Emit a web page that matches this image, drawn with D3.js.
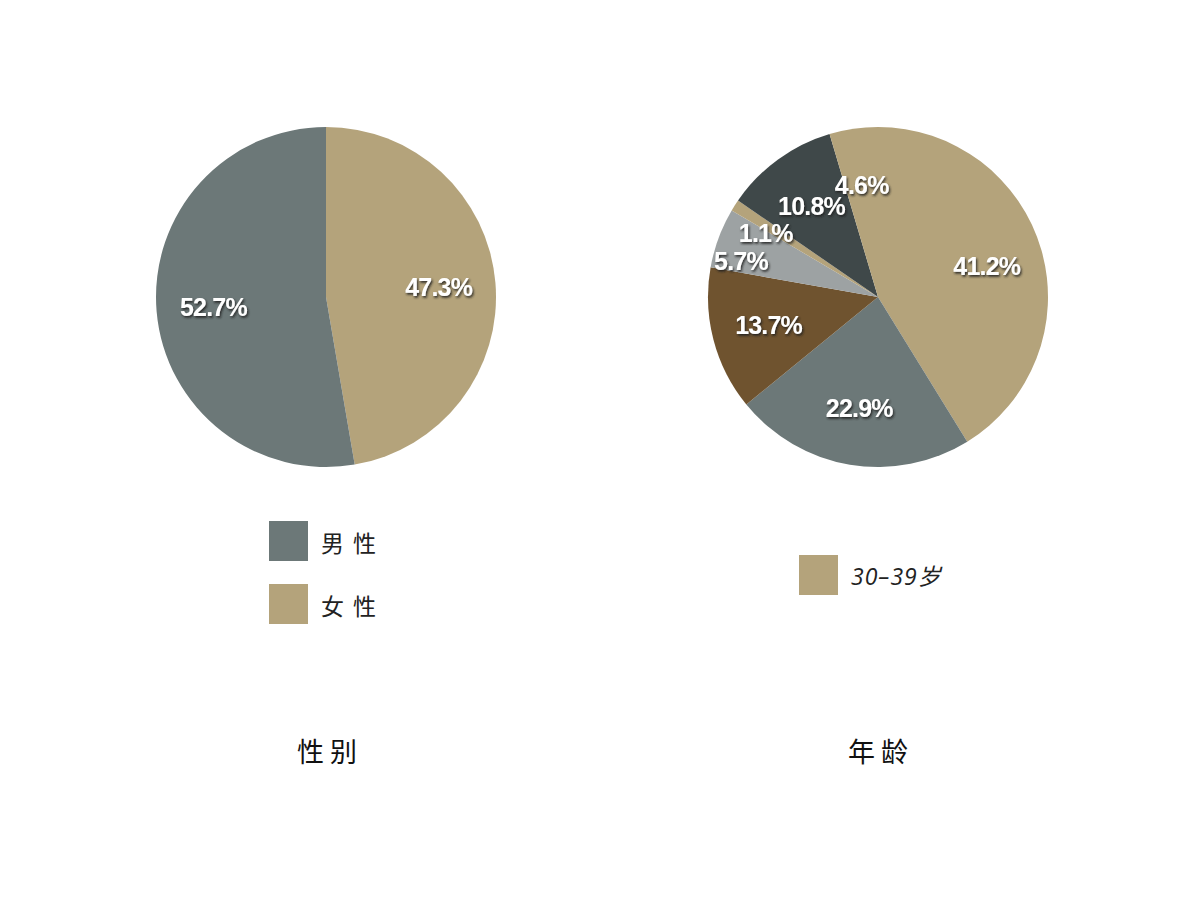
<!DOCTYPE html>
<html>
<head>
<meta charset="utf-8">
<script src="https://cdn.jsdelivr.net/npm/d3@7"></script>
<style>
  body { margin: 0; background: #fff; }
  .pct { font-family: "Liberation Sans", Arial, sans-serif; font-weight: bold; font-size: 25px; fill: #fff; letter-spacing: -0.8px; }
  .leg { font-family: "Noto Sans CJK SC", sans-serif; font-size: 23px; fill: #222; letter-spacing: 9px; }
  .title { font-family: "Noto Sans CJK SC", sans-serif; font-size: 27px; fill: #111; letter-spacing: 6px; }
</style>
</head>
<body>
<div id="chart"></div>
<script>
// data
var genderLabels = ["女性", "男性"];
var genderValues = [47.3, 52.7];
var genderColors = ["#b4a37b", "#6c7878"];
var genderLegend = ["男性", "女性"];
var genderLegendColors = ["#6c7878", "#b4a37b"];

var ageValues = [41.2, 22.9, 13.7, 5.7, 1.1, 10.8, 4.6];
var ageColors = ["#b4a37b", "#6c7878", "#6f532f", "#9da2a3", "#b4a37b", "#3f4849", "#b4a37b"];
var ageLegend = ["30–39岁"];
var ageLegendColors = ["#b4a37b"];

var titles = ["性别", "年龄"];

var svgWidth = 1200, svgHeight = 900;
var radius = 170;

var svg = d3.select("#chart").append("svg").attr("width", svgWidth).attr("height", svgHeight);

// shadow behind the white percentage labels
var defs = svg.append("defs");
defs.append("filter").attr("id", "shadow").attr("x", "-20%").attr("y", "-20%").attr("width", "140%").attr("height", "160%")
  .append("feDropShadow").attr("dx", 1.2).attr("dy", 1.8).attr("stdDeviation", 0.9)
  .attr("flood-color", "#1a1a1a").attr("flood-opacity", 0.9);

var pie = d3.pie().sort(null).value(d => d);
var arc = d3.arc().innerRadius(0).outerRadius(radius);
var labelArc = d3.arc().innerRadius(radius * 0.665).outerRadius(radius * 0.665);

function drawPie(cx, cy, values, colors, nudge) {
  var g = svg.append("g").attr("transform", `translate(${cx}, ${cy})`);
  var arcs = pie(values);
  g.selectAll("path").data(arcs).enter().append("path")
    .attr("d", arc).attr("fill", (d, i) => colors[i]);
  g.selectAll("text").data(arcs).enter().append("text")
    .attr("class", "pct")
    .attr("filter", "url(#shadow)")
    .attr("text-anchor", "middle")
    .attr("dominant-baseline", "central")
    .attr("transform", function(d, i) {
      var c = labelArc.centroid(d);
      var n = nudge[i] || [0, 0];
      return `translate(${c[0] + n[0]}, ${c[1] + n[1]})`;
    })
    .text(d => d.value.toFixed(1) + "%");
}

function drawLegend(x, y, labels, colors, italic) {
  var g = svg.append("g").attr("transform", `translate(${x}, ${y})`);
  var items = g.selectAll("g").data(labels).enter().append("g")
    .attr("transform", (d, i) => `translate(0, ${i * 63})`);
  items.append("rect").attr("width", 39).attr("height", 40).attr("fill", (d, i) => colors[i]);
  items.append("text").attr("class", "leg").attr("x", 52).attr("y", 21)
    .attr("dominant-baseline", "central")
    .style("font-style", italic ? "italic" : null)
    .style("letter-spacing", italic ? "1px" : null)
    .style("font-family", italic ? "'Open Sans', 'Noto Sans CJK SC', sans-serif" : null)
    .text(d => d);
}

// left: gender
drawPie(326, 297, genderValues, genderColors, {});
drawLegend(269, 521, genderLegend, genderLegendColors, false);

// right: age (small slices' labels pushed left so they don't collide)
drawPie(878, 297, ageValues, ageColors, {3: [-31, 3], 4: [-17, -3]});
drawLegend(799, 555, ageLegend, ageLegendColors, true);

// titles under the pies
svg.selectAll(".title").data(titles).enter().append("text")
  .attr("class", "title")
  .attr("x", (d, i) => i === 0 ? 330 : 881)
  .attr("y", 750)
  .attr("text-anchor", "middle")
  .attr("dominant-baseline", "central")
  .text(d => d);
</script>
</body>
</html>
